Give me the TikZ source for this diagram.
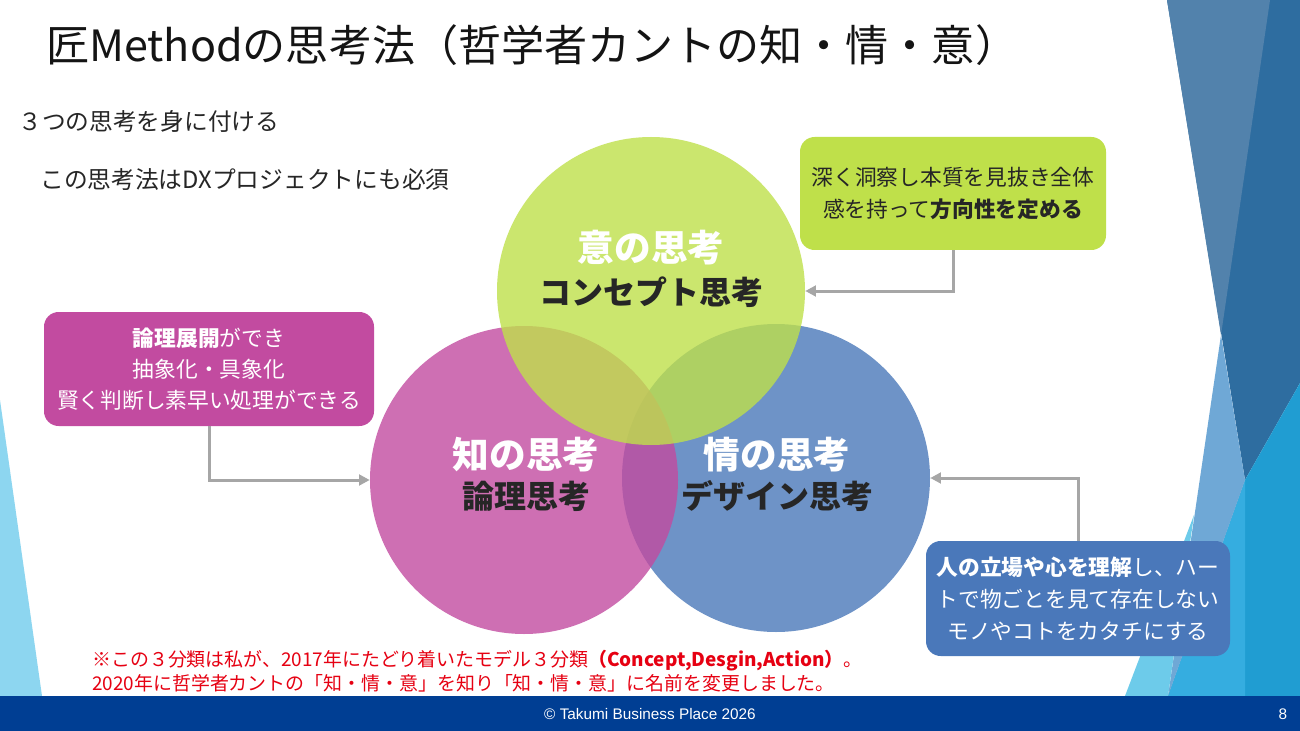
\documentclass[tikz,border=0pt]{standalone}
\usepackage{fontspec}
\setmainfont{Noto Sans CJK JP}
\newfontfamily\footfont{Liberation Sans}
\usetikzlibrary{arrows.meta}
\definecolor{cLime}{HTML}{BFE04A}
\definecolor{cMag}{HTML}{C24BA0}
\definecolor{cBlue}{HTML}{4A78BA}
\definecolor{cGray}{HTML}{A6A6A6}
\definecolor{cText}{HTML}{262626}
\definecolor{cRed}{HTML}{E60012}
\definecolor{cFoot}{HTML}{003E93}
\definecolor{cDark}{HTML}{2E6DA0}
\definecolor{cSteel}{HTML}{5282AC}
\definecolor{cMed}{HTML}{6FA8D6}
\definecolor{cCyanD}{HTML}{209DD2}
\definecolor{cCyanB}{HTML}{35ADE0}
\definecolor{cLight}{HTML}{6DCBEA}
\definecolor{cSliver}{HTML}{8DD6F0}
\begin{document}
\begin{tikzpicture}[x=0.75pt,y=-0.75pt,
  circ/.style={circle, minimum size=231pt, inner sep=0pt, fill opacity=0.8, draw=none},
  box/.style={rounded corners=11pt, inner sep=0pt, align=center},
  boxfont/.style={font=\fontsize{16.3}{24}\selectfont},
  conn/.style={draw=cGray, line width=2.25pt, -{Triangle[length=8pt,width=8pt]}},
  bigt/.style={font=\bfseries\fontsize{27.5}{30}\selectfont, text=white, inner sep=0pt},
  subt/.style={font=\bfseries\fontsize{24}{28}\selectfont, text=cText, inner sep=0pt},
  plain/.style={anchor=west, inner sep=0pt, text=cText},
  note/.style={anchor=west, inner sep=0pt, text=cRed, font=\fontsize{14.2}{17}\selectfont}
]
\useasboundingbox (0,0) rectangle (1300,731);
\fill[white] (0,0) rectangle (1300,731);
% background facets
\fill[cDark] (1167,0) -- (1300,0) -- (1300,383) -- (1245,480) -- cycle;
\fill[cSteel] (1167,0) -- (1270,0) -- (1221,335) -- cycle;
\fill[cCyanD] (1300,383) -- (1300,696) -- (1168,696) -- (1245,480) -- cycle;
\fill[cCyanB] (1245,480) -- (1245,696) -- (1168,696) -- cycle;
\fill[cMed] (1221,335) -- (1245,480) -- (1168,696) -- cycle;
\fill[cLight] (1125,696) -- (1194,515) -- (1168,696) -- cycle;
\fill[cSliver] (0,400) -- (42,696) -- (0,696) -- cycle;
% footer
\fill[cFoot] (0,696) rectangle (1300,731);
\node[text=white, font=\footfont\fontsize{11.5}{13}\selectfont] (foot) at (650,714) {© Takumi Business Place 2026};
\node[text=white, font=\footfont\fontsize{11.5}{13}\selectfont] (pg) at (1283,714) {8};
% title and texts
\node[anchor=west, inner sep=0pt, text=black!92, font=\fontsize{32.3}{38}\selectfont] (title) at (46,45) {匠Methodの思考法（哲学者カントの知・情・意）};
\node[plain, font=\fontsize{17.8}{21}\selectfont] (sub1) at (18,121) {３つの思考を身に付ける};
\node[plain, font=\fontsize{17.8}{21}\selectfont] (sub2) at (40,180) {この思考法はDXプロジェクトにも必須};
% circles
\node[circ, fill=cBlue] (rightc) at (776,478) {};
\node[circ, fill=cMag] (leftc) at (524,480) {};
\node[circ, fill=cLime] (topc) at (651,291) {};
% circle labels
\node[bigt] (t1) at (651,248) {意の思考};
\node[subt] (t1b) at (651,292) {コンセプト思考};
\node[bigt] (t2) at (526,455) {知の思考};
\node[subt] (t2b) at (526,496) {論理思考};
\node[bigt] (t3) at (777,455) {情の思考};
\node[subt] (t3b) at (777,496) {デザイン思考};
% boxes
\node[box, boxfont, fill=cLime, text=cText, minimum width=229.5pt, minimum height=84.75pt] (gbox) at (953,193.5)
  {深く洞察し本質を見抜き全体\\感を持って\textbf{方向性を定める}};
\node[box, fill=cMag, text=white, minimum width=247.5pt, minimum height=85.5pt, font=\fontsize{16.3}{23.2}\selectfont] (mbox) at (209,369)
  {\textbf{論理展開}ができ\\抽象化・具象化\\賢く判断し素早い処理ができる};
\node[box, boxfont, fill=cBlue, text=white, minimum width=228pt, minimum height=86.25pt] (bbox) at (1078,598.5)
  {\textbf{人の立場や心を理解}し、ハー\\トで物ごとを見て存在しない\\モノやコトをカタチにする};
% connectors
\draw[conn] (gbox.south) |- (topc.east);
\draw[conn] (mbox.south) |- (leftc.west);
\draw[conn] (bbox.north) |- (rightc.east);
% notes
\node[note] (n1) at (92,661)
  {※この３分類は私が、2017年にたどり着いたモデル３分類\textbf{（Concept,Desgin,Action）}。};
\node[note] (n2) at (92,683)
  {2020年に哲学者カントの「知・情・意」を知り「知・情・意」に名前を変更しました。};
\end{tikzpicture}
\end{document}
